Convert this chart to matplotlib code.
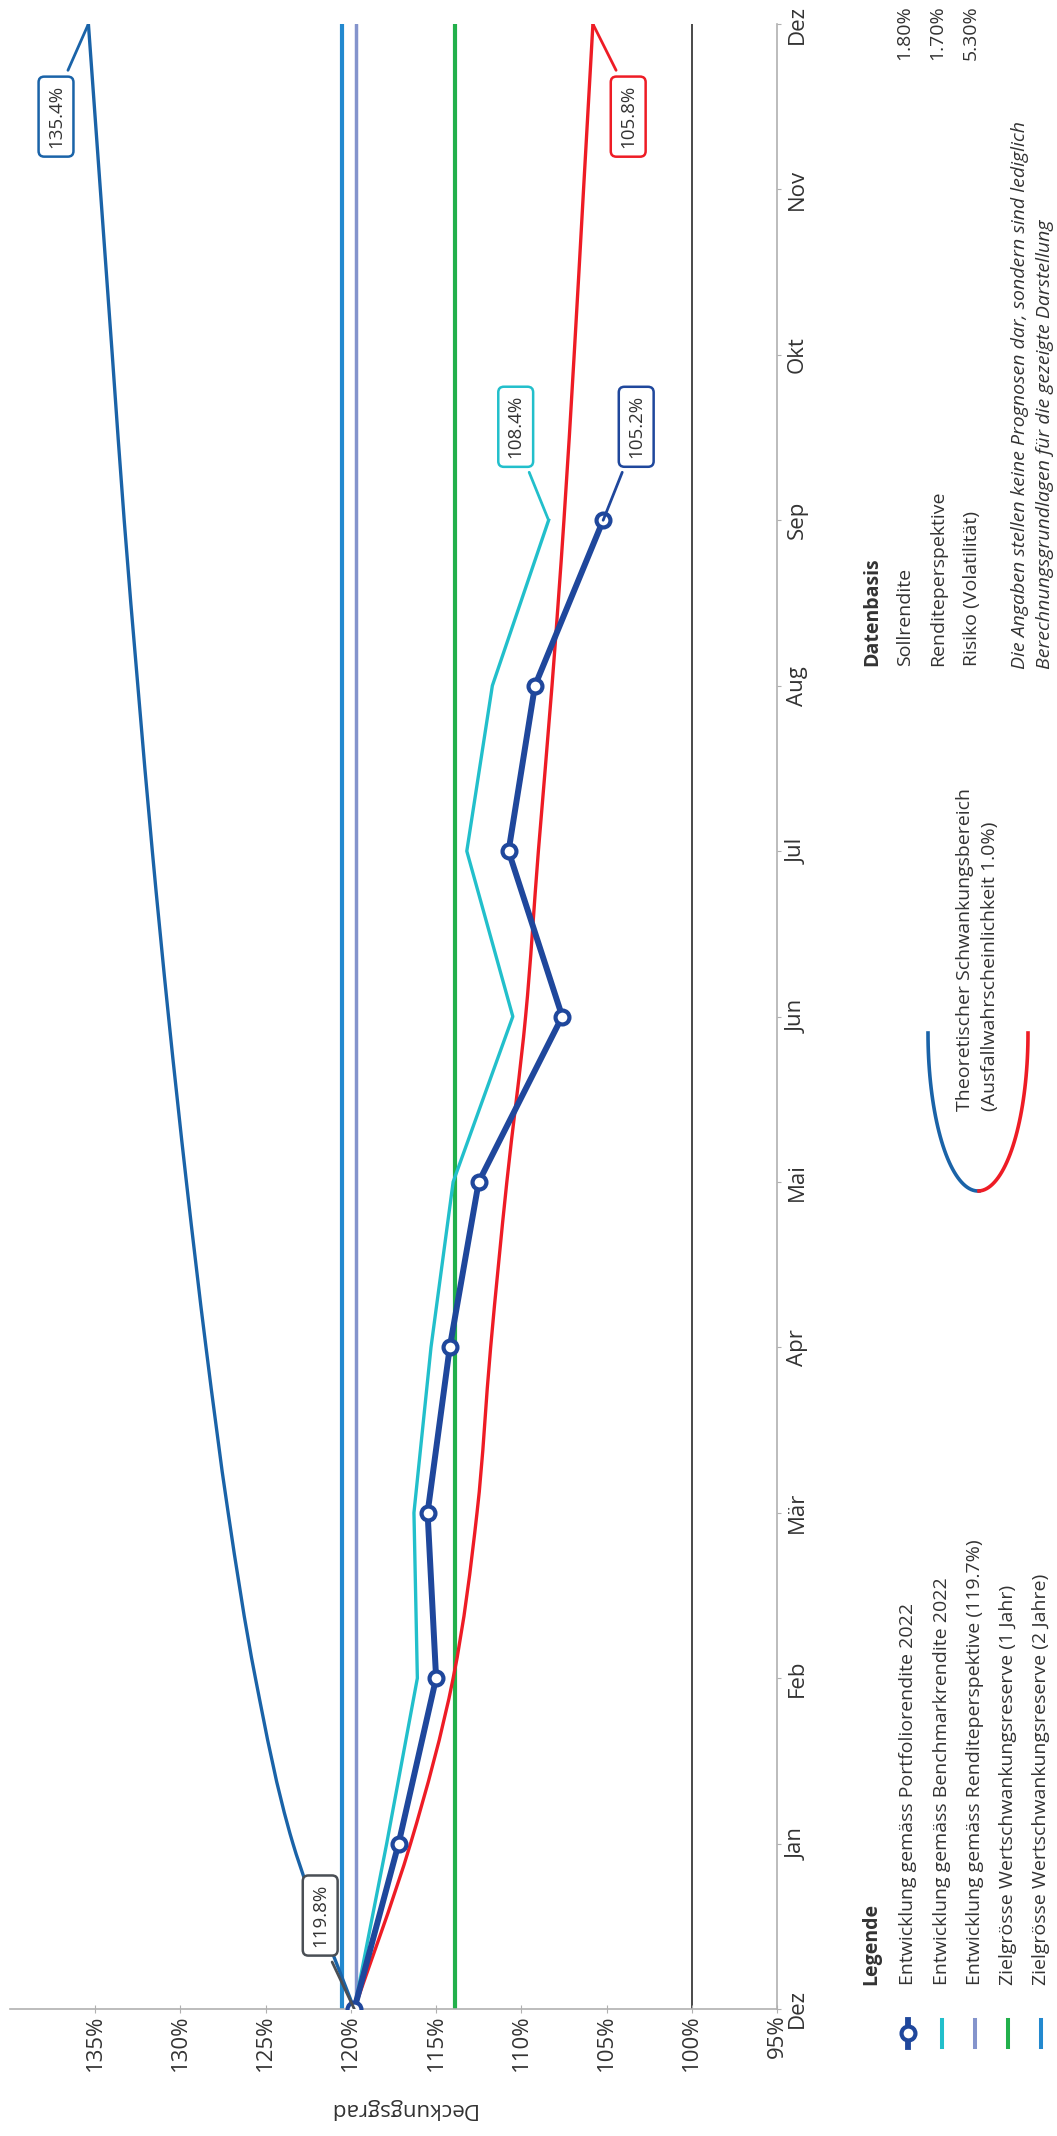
import matplotlib
matplotlib.use("Agg")
import matplotlib.pyplot as plt
from matplotlib.lines import Line2D
from matplotlib.path import Path
from matplotlib.patches import PathPatch
import numpy as np

plt.rcParams['font.family'] = ['Open Sans', 'DejaVu Sans']

# data
months = ['Dez', 'Jan', 'Feb', 'Mär', 'Apr', 'Mai', 'Jun', 'Jul', 'Aug', 'Sep', 'Okt', 'Nov', 'Dez']
portfolio = [119.8, 117.2, 115.0, 115.5, 114.2, 112.5, 107.6, 110.75, 109.2, 105.2]
benchmark = [119.8, 117.9, 116.1, 116.3, 115.3, 114.0, 110.5, 113.2, 111.7, 108.4]
band_upper = [119.8, 123.4, 125.6, 127.2, 128.5, 129.65, 130.7, 131.65, 132.5, 133.3, 134.0, 134.7, 135.4]
band_lower = [119.8, 116.5, 114.0, 112.6, 111.8, 110.85, 109.75, 109.0, 108.2, 107.5, 106.9, 106.35, 105.8]
rendite_persp = 119.7
reserve_1j = 113.9
reserve_2j = 120.5
pct_ticks = [135, 130, 125, 120, 115, 110, 105, 100, 95]

legend_labels = ['Entwicklung gemäss Portfoliorendite 2022',
                 'Entwicklung gemäss Benchmarkrendite 2022',
                 'Entwicklung gemäss Renditeperspektive (119.7%)',
                 'Zielgrösse Wertschwankungsreserve (1 Jahr)',
                 'Zielgrösse Wertschwankungsreserve (2 Jahre)']
basis_labels = ['Sollrendite', 'Renditeperspektive', 'Risiko (Volatilität)']
basis_values = ['1.80%', '1.70%', '5.30%']

c_port = '#1f479c'
c_bench = '#22bfcb'
c_persp = '#8494cc'
c_res1 = '#22b04b'
c_res2 = '#2389cf'
c_up = '#1a63a8'
c_low = '#ee1c25'
c_text = '#333333'
c_axis = '#b0b0b0'

W, H = 1057, 2136
fig = plt.figure(figsize=(W / 100, H / 100), dpi=100)


def fx(x):
    return x / W


def fy(y):
    return 1 - y / H


def spline_path(xs, ys):
    # smooth line through the points (Catmull-Rom drawn as Bezier segments)
    p = np.column_stack([xs, ys]).astype(float)
    ext = np.vstack([p[0], p, p[-1]])
    verts = [p[0]]
    codes = [Path.MOVETO]
    for i in range(1, len(ext) - 2):
        p0, p1, p2, p3 = ext[i - 1], ext[i], ext[i + 1], ext[i + 2]
        verts += [p1 + (p2 - p0) / 6, p2 - (p3 - p1) / 6, p2]
        codes += [Path.CURVE4] * 3
    return Path(verts, codes)


ax = fig.add_axes([fx(10), fy(2009), fx(767), 1985 / H])
ax.set_xlim(140, 95)
ax.set_ylim(0, 12)

t_all = np.arange(len(months))
t_port = np.arange(len(portfolio))

ax.axvline(reserve_2j, color=c_res2, lw=3, solid_capstyle='round', zorder=2)
ax.axvline(rendite_persp, color=c_persp, lw=2.5, solid_capstyle='round', zorder=2)
ax.axvline(reserve_1j, color=c_res1, lw=3, solid_capstyle='round', zorder=2)
ax.axvline(100, color='#3a3a3a', lw=1.3, zorder=1)

ax.add_patch(PathPatch(spline_path(band_upper, t_all), fill=False, ec=c_up, lw=2.4, zorder=3))
ax.add_patch(PathPatch(spline_path(band_lower, t_all), fill=False, ec=c_low, lw=2.4, zorder=4))
ax.plot(benchmark, t_port, color=c_bench, lw=2.4, zorder=3)
ax.plot(portfolio, t_port, color=c_port, lw=4.3, marker='o', ms=10,
        mfc='white', mec=c_port, mew=3, zorder=6)

# axes styling
for s in ['top', 'left']:
    ax.spines[s].set_visible(False)
ax.spines['bottom'].set_color(c_axis)
ax.spines['right'].set_color(c_axis)
ax.spines['bottom'].set_linewidth(1.2)
ax.spines['right'].set_linewidth(1.2)

ax.set_xticks(pct_ticks)
ax.set_xticklabels([f'{v}%' for v in pct_ticks], rotation=90, fontsize=16, color=c_text)
ax.tick_params(axis='x', direction='inout', length=6, color=c_axis, pad=1)
ax.yaxis.tick_right()
ax.set_yticks(t_all)
ax.set_yticklabels(months, rotation=90, va='center', fontsize=16, color=c_text)
ax.tick_params(axis='y', direction='out', length=3, color=c_axis, pad=4)

fig.text(fx(402), fy(2109), 'Deckungsgrad', rotation=180, ha='center', va='center',
         fontsize=16, color=c_text)


# value callouts
def callout(label, box_xy, tail_xy, point_xy, color):
    ax.plot([tail_xy[0], point_xy[0]], [tail_xy[1], point_xy[1]], color=color,
            lw=2, zorder=7, solid_capstyle='round')
    ax.text(box_xy[0], box_xy[1], label, rotation=90, ha='center', va='center',
            fontsize=13.5, color=c_text, zorder=8,
            bbox=dict(boxstyle='round,pad=0.45,rounding_size=0.3', fc='white',
                      ec=color, lw=1.8))


callout(f'{band_upper[-1]:.1f}%', (137.3, 11.44), (136.6, 11.72), (band_upper[-1], 12), c_up)
callout(f'{band_lower[-1]:.1f}%', (103.73, 11.44), (104.44, 11.72), (band_lower[-1], 12), c_low)
callout(f'{portfolio[0]:.1f}%', (121.8, 0.565), (121.1, 0.284), (portfolio[0], 0), '#4a4f55')
callout(f'{benchmark[-1]:.1f}%', (110.33, 9.565), (109.54, 9.29), (benchmark[-1], 9), c_bench)
callout(f'{portfolio[-1]:.1f}%', (103.26, 9.565), (104.08, 9.29), (portfolio[-1], 9), c_port)

# legend block
fig.text(fx(871), fy(1985), 'Legende', rotation=90, ha='center', va='bottom',
         fontsize=14, fontweight='bold', color=c_text)
leg_x = [908, 942, 975, 1008, 1041]
leg_colors = [c_port, c_bench, c_persp, c_res1, c_res2]
leg_lw = [4.2, 2.9, 2.9, 2.9, 2.9]
for x, lab, col, lw in zip(leg_x, legend_labels, leg_colors, leg_lw):
    fig.add_artist(Line2D([fx(x), fx(x)], [fy(2020), fy(2047)], color=col, lw=lw,
                          transform=fig.transFigure))
    fig.text(fx(x), fy(1985), lab, rotation=90, ha='center', va='bottom',
             fontsize=14, color=c_text)
fig.add_artist(Line2D([fx(leg_x[0])], [fy(2033)], marker='o', ms=10, mfc='white',
                      mec=c_port, mew=3, transform=fig.transFigure))

# band legend (U-shaped icon)
phi = np.linspace(0, np.pi, 80)
arc_x = 978 - 50 * np.cos(phi)
arc_y = 1033 + 158 * np.sin(phi)
half = len(phi) // 2
fig.add_artist(Line2D(fx(arc_x[:half + 1]), fy(arc_y[:half + 1]), color=c_up, lw=2.6,
                      transform=fig.transFigure))
fig.add_artist(Line2D(fx(arc_x[half:]), fy(arc_y[half:]), color=c_low, lw=2.6,
                      transform=fig.transFigure))
fig.text(fx(965), fy(1111), 'Theoretischer Schwankungsbereich', rotation=90,
         ha='center', va='bottom', fontsize=14, color=c_text)
fig.text(fx(990), fy(1111), '(Ausfallwahrscheinlichkeit 1.0%)', rotation=90,
         ha='center', va='bottom', fontsize=14, color=c_text)

# data basis
fig.text(fx(872), fy(666), 'Datenbasis', rotation=90, ha='center', va='bottom',
         fontsize=14, fontweight='bold', color=c_text)
for x, lab, val in zip([905, 938, 972], basis_labels, basis_values):
    fig.text(fx(x), fy(666), lab, rotation=90, ha='center', va='bottom',
             fontsize=14, color=c_text)
    fig.text(fx(x - 1), fy(5), val, rotation=90, ha='center', va='top',
             fontsize=14, color=c_text)
fig.text(fx(1020), fy(669), 'Die Angaben stellen keine Prognosen dar, sondern sind lediglich',
         rotation=90, ha='center', va='bottom', fontsize=14, style='italic', color=c_text)
fig.text(fx(1045), fy(669), 'Berechnungsgrundlagen für die gezeigte Darstellung',
         rotation=90, ha='center', va='bottom', fontsize=14, style='italic', color=c_text)

fig.savefig('out.png', dpi=100)
